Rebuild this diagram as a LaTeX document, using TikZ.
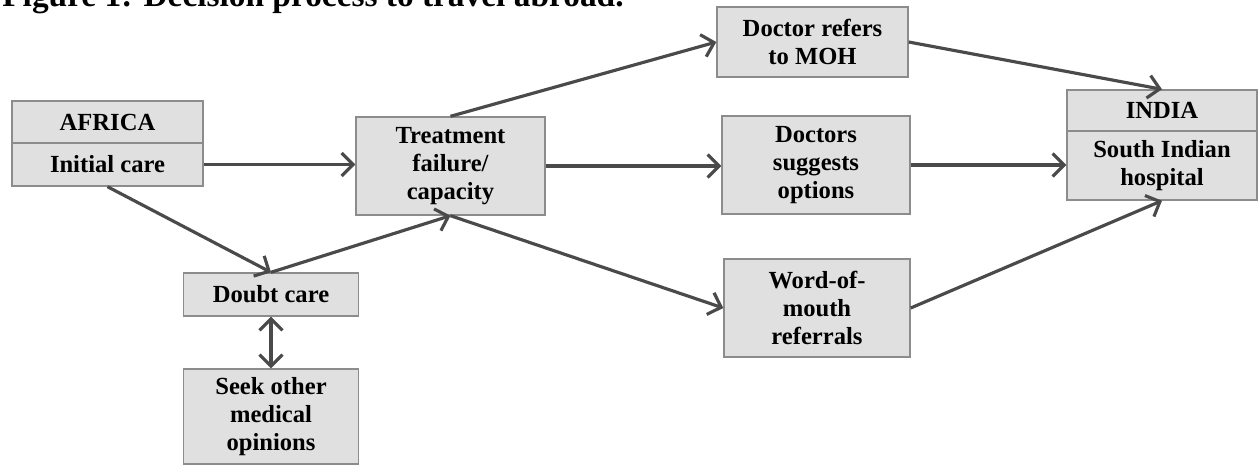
\documentclass[tikz,border=0pt]{standalone}
\usepackage{fontspec}
\setmainfont{Liberation Serif}
\usetikzlibrary{arrows.meta}
\definecolor{boxfill}{HTML}{E0E0E0}
\definecolor{boxline}{HTML}{8C8C8C}
\definecolor{arrowgray}{HTML}{4A4A4A}
\tikzset{
  box/.style={draw=boxline, fill=boxfill, line width=0.8pt, align=center, inner sep=0pt,
    font=\bfseries\fontsize{14}{16}\selectfont},
  tip/.style={Straight Barb[length=6.5pt,width=13pt,line width=1.8pt]},
  link/.style={draw=arrowgray, line width=1.8pt, -{Straight Barb[length=6.5pt,width=13pt]}},
}
\begin{document}
\begin{tikzpicture}[x=0.02cm,y=-0.02cm]
    \useasboundingbox (0,0) rectangle (1259,466);
    \clip (0,0) rectangle (1259,466);
    \node[anchor=base west, inner sep=0pt, font=\bfseries\fontsize{19}{22}\selectfont] (title) at (2,7) {Figure 1: Decision process to travel abroad.};
    % left side
    \node[box, minimum width=3.82cm, minimum height=0.84cm] (africa) at (107.5,122) {AFRICA};
    \node[box, minimum width=3.82cm, minimum height=0.86cm] (initial) at (107.5,164.5) {Initial care};
    \node[box, minimum width=3.5cm, minimum height=0.86cm] (doubt) at (271,294.5) {Doubt care};
    \node[box, minimum width=3.5cm, minimum height=1.9cm] (seek) at (271,416.5) {Seek other\\medical\\opinions};
    \node[box, minimum width=3.78cm, minimum height=1.96cm] (treat) at (450.5,166) {Treatment\\failure/\\capacity};
    % middle column
    \node[box, minimum width=3.82cm, minimum height=1.4cm] (refers) at (812.5,42) {Doctor refers\\to MOH};
    \node[box, minimum width=3.76cm, minimum height=1.96cm] (suggests) at (816,165) {Doctors\\suggests\\options};
    \node[box, minimum width=3.72cm, minimum height=1.96cm] (mouth) at (817,308) {Word-of-\\mouth\\referrals};
    % right side
    \node[box, minimum width=3.8cm, minimum height=0.82cm] (india) at (1162,110.5) {INDIA};
    \node[box, minimum width=3.8cm, minimum height=1.38cm] (hospital) at (1162,165.5) {South Indian\\hospital};
    % arrows
    \draw[link] (initial.east) -- (initial.east -| treat.west);
    \draw[link] (initial.south) -- (doubt.north);
    \draw[link] (doubt.north) -- (treat.south);
    \draw[link, {Straight Barb[length=6.5pt,width=13pt]}-{Straight Barb[length=6.5pt,width=13pt]}] (doubt.south) -- (seek.north);
    \draw[link] (treat.north) -- (refers.west);
    \draw[link] (treat.east) -- (treat.east -| suggests.west);
    \draw[link] (treat.south) -- (mouth.west);
    \draw[link] (refers.east) -- (india.north);
    \draw[link] (suggests.east) -- (suggests.east -| hospital.west);
    \draw[link] (mouth.east) -- (hospital.south);
\end{tikzpicture}
\end{document}
